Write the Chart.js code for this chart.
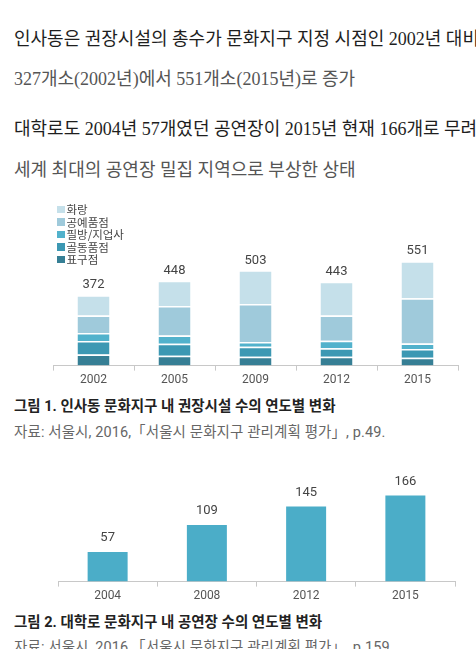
<!DOCTYPE html>
<html>
<head>
<meta charset="utf-8">
<script src="https://cdn.jsdelivr.net/npm/chart.js@4.4.1/dist/chart.umd.min.js"></script>
<style>
  html, body { margin: 0; padding: 0; background: #fff; width: 476px; height: 649px; overflow: hidden; }
  .t { position: absolute; left: 14px; white-space: nowrap; }
  .p { font-family: "Liberation Serif", "Noto Sans CJK KR", serif; font-size: 18px; line-height: 22px; letter-spacing: 0px; }
  .dark { color: #1e1e1e; }
  .gray { color: #555; }
  .cap { font-family: "Roboto", "Noto Sans CJK KR", sans-serif; font-weight: bold; font-size: 14.5px; line-height: 18px; color: #222; letter-spacing: 0px; }
  .src { font-family: "Roboto", "Noto Sans CJK KR", sans-serif; font-size: 14.5px; line-height: 18px; color: #666; letter-spacing: 0.1px; }
  #legend { position: absolute; left: 57px; top: 203px; font-family: "Noto Sans CJK KR", sans-serif; font-size: 11.5px; color: #444; }
  #legend div { height: 12.5px; line-height: 12.5px; display: flex; align-items: center; }
  #legend span.sw { display: inline-block; width: 7.5px; height: 7.5px; margin-right: 2px; }
  canvas { position: absolute; left: 0; }
</style>
</head>
<body>
<div class="t p dark" style="top:28px">인사동은 권장시설의 총수가 문화지구 지정 시점인 2002년 대비</div>
<div class="t p gray" style="top:68px">327개소(2002년)에서 551개소(2015년)로 증가</div>
<div class="t p dark" style="top:118px">대학로도 2004년 57개였던 공연장이 2015년 현재 166개로 무려</div>
<div class="t p gray" style="top:159px">세계 최대의 공연장 밀집 지역으로 부상한 상태</div>

<div style="position:absolute; left:0; top:190px; width:476px; height:200px;"><canvas id="c1" width="476" height="200"></canvas></div>
<div id="legend"></div>

<div class="t cap" style="top:398px">그림 1. 인사동 문화지구 내 권장시설 수의 연도별 변화</div>
<div class="t src" style="top:424px">자료: 서울시, 2016,「서울시 문화지구 관리계획 평가」, p.49.</div>

<div style="position:absolute; left:0; top:460px; width:476px; height:150px;"><canvas id="c2" width="476" height="150"></canvas></div>

<div class="t cap" style="top:614px">그림 2. 대학로 문화지구 내 공연장 수의 연도별 변화</div>
<div class="t src" style="top:639px">자료: 서울시, 2016,「서울시 문화지구 관리계획 평가」, p.159.</div>

<script>
// ---- Data: Figure 1 (Insadong recommended facilities) ----
const years1 = ['2002', '2005', '2009', '2012', '2015'];
const pyogujeom = [59, 52, 47, 47, 42];      // 표구점
const goldongpum = [71, 64, 52, 44, 45];     // 골동품점
const pilbang = [42, 43, 26, 40, 30];        // 필방/지업사
const gongyepum = [92, 156, 200, 134, 239];  // 공예품점
const hwarang = [108, 133, 178, 178, 195];   // 화랑
const totals1 = [372, 448, 503, 443, 551];

// ---- Data: Figure 2 (Daehangno performance venues) ----
const years2 = ['2004', '2008', '2012', '2015'];
const venues = [57, 109, 145, 166];

const seriesNames = ['표구점', '골동품점', '필방/지업사', '공예품점', '화랑'];
const seriesColors = ['#367f95', '#3c98b3', '#52b2cc', '#9fcadb', '#c5e0ea'];
const seriesData = [pyogujeom, goldongpum, pilbang, gongyepum, hwarang];

const labelFont = { family: 'Roboto, "Noto Sans CJK KR", sans-serif', size: 12 };

const totalLabels = {
  id: 'totalLabels',
  afterDatasetsDraw(chart, args, opts) {
    const ctx = chart.ctx;
    const n = chart.data.datasets.length;
    const meta = chart.getDatasetMeta(n - 1);
    ctx.save();
    ctx.font = '13px Roboto, sans-serif';
    ctx.fillStyle = '#444';
    ctx.textAlign = 'center';
    ctx.textBaseline = 'middle';
    meta.data.forEach((bar, i) => {
      ctx.fillText(String(opts.values[i]), bar.x, bar.y - opts.gap);
    });
    ctx.restore();
  }
};

function xAxis() {
  return {
    offset: true,
    border: { display: true, color: '#c8c8c8', width: 1 },
    grid: { display: true, drawOnChartArea: false, offset: true, tickLength: 5, color: '#c8c8c8' },
    ticks: { color: '#555', font: labelFont, padding: 2 }
  };
}

new Chart(document.getElementById('c1'), {
  type: 'bar',
  data: {
    labels: years1,
    datasets: seriesNames.map((name, i) => ({
      label: name,
      data: seriesData[i],
      backgroundColor: seriesColors[i],
      borderColor: '#ffffff',
      borderWidth: { top: 1.5, right: 0, bottom: 0, left: 0 },
      borderSkipped: 'start',
      categoryPercentage: 1,
      barPercentage: 0.395
    }))
  },
  options: {
    responsive: false,
    animation: false,
    layout: { padding: { left: 53, right: 18, top: 40, bottom: 1 } },
    plugins: { legend: { display: false }, tooltip: { enabled: false }, totalLabels: { values: totals1, gap: 10 } },
    scales: {
      x: Object.assign(xAxis(), { stacked: true }),
      y: { stacked: true, display: false, min: 0, max: 716 }
    }
  },
  plugins: [totalLabels]
});

// HTML legend (top series first)
const lg = document.getElementById('legend');
for (let i = seriesNames.length - 1; i >= 0; i--) {
  const d = document.createElement('div');
  d.innerHTML = '<span class="sw" style="background:' + seriesColors[i] + '"></span>' + seriesNames[i];
  lg.appendChild(d);
}

new Chart(document.getElementById('c2'), {
  type: 'bar',
  data: {
    labels: years2,
    datasets: [{
      label: '공연장 수',
      data: venues,
      backgroundColor: '#4badc8',
      borderWidth: 0,
      categoryPercentage: 1,
      barPercentage: 0.403
    }]
  },
  options: {
    responsive: false,
    animation: false,
    layout: { padding: { left: 58, right: 21, top: 20, bottom: 5 } },
    plugins: { legend: { display: false }, tooltip: { enabled: false }, totalLabels: { values: venues, gap: 14 } },
    scales: {
      x: xAxis(),
      y: { display: false, min: 0, max: 196 }
    }
  },
  plugins: [totalLabels]
});
</script>
</body>
</html>
